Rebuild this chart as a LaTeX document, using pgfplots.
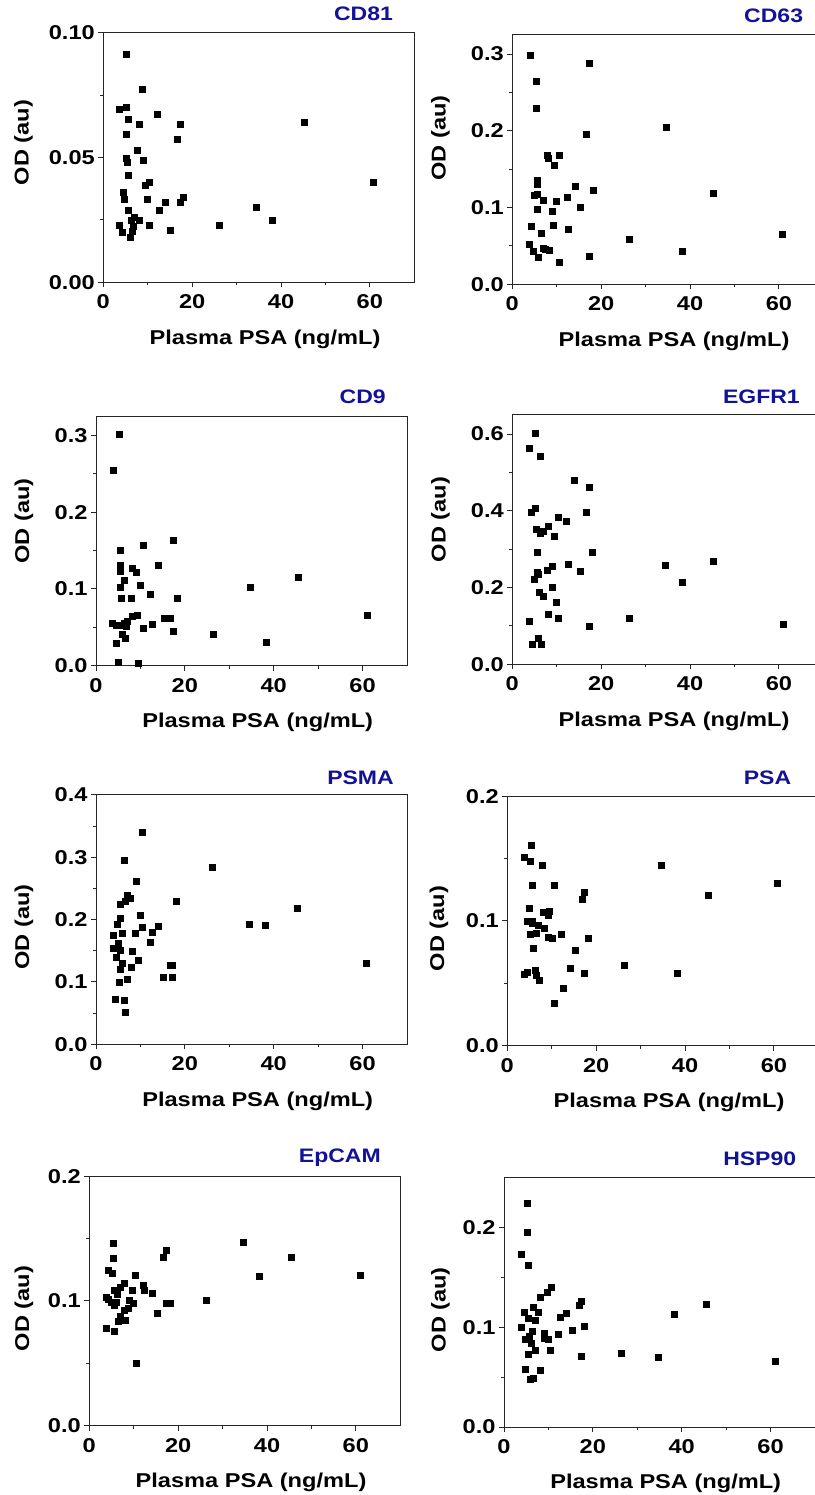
\documentclass[border=0pt]{standalone}
\usepackage{fontspec}
\setmainfont{Liberation Sans}[FakeStretch=1.18]
\usepackage{pgfplots}
\pgfplotsset{compat=1.18}
\definecolor{titleblue}{RGB}{18,18,150}

% style of the measured points
\pgfplotsset{
  psapoints/.style={black, only marks, mark=square*, mark size=3pt,
    mark options={fill=black, draw=black}},
}

% common look of the eight scatter panels
\pgfplotsset{
  psapanel/.style n args={4}{% #1,#2: ylabel position; #3,#4: title offset
    scale only axis, width=311pt, height=249.5pt,
    anchor=south west,
    xmin=0, xmax=70, ymin=0,
    xtick={0,20,40,60}, minor x tick num=1, minor y tick num=1,
    tick pos=left, tick align=outside,
    major tick length=5pt, minor tick length=3pt,
    axis line style={line width=0.9pt, black!85},
    every tick/.style={line width=0.9pt, black!85},
    scaled y ticks=false,
    /pgf/number format/assume math mode=true,
    ticklabel style={font=\fontsize{20}{24}\selectfont\bfseries},
    yticklabel style={/pgf/number format/.cd, fixed, zerofill, precision=1},
    xticklabel style={yshift=-4pt},
    label style={font=\fontsize{20}{24}\selectfont\bfseries},
    xlabel={Plasma PSA (ng/mL)},
    ylabel={OD (au)},
    xlabel style={at={(axis description cs:0.52,0)}, anchor=base, yshift=-62pt},
    ylabel style={at={(axis description cs:#1,#2)}, anchor=center},
    title style={at={(axis description cs:1,1)}, anchor=base east,
      xshift=#3, yshift=#4,
      font=\fontsize{19.5}{23}\selectfont\bfseries, text=titleblue},
    clip=false,
  }
}

\begin{document}
\begin{tikzpicture}

% ---------------- CD81 ----------------
\begin{axis}[psapanel={-0.257}{0.56}{-17.8pt}{6.6pt},
  at={(103.3pt,1212.7pt)}, title={CD81},
  ymax=0.10, ytick={0,0.05,0.10},
  yticklabel style={/pgf/number format/.cd, fixed, zerofill, precision=2}]
\addplot[psapoints] coordinates {
 (5.1,0.0913) (8.85,0.0772) (3.6,0.0692) (5.1,0.0701) (5.5,0.0652)
 (8.1,0.0632) (12.15,0.0672) (17.25,0.0632) (5.25,0.0592) (16.65,0.0572)
 (7.7,0.0531) (5.25,0.0498) (5.4,0.0481) (9.0,0.0491) (5.6,0.0431)
 (9.45,0.0391) (10.35,0.0400) (4.5,0.0360) (4.7,0.0331) (9.9,0.0331)
 (13.9,0.0321) (17.25,0.0321) (18.0,0.0339) (5.6,0.0290) (12.5,0.0290)
 (6.2,0.0250) (7.0,0.0261) (8.1,0.0250) (3.6,0.0230) (6.75,0.0224)
 (10.35,0.0230) (4.3,0.0202) (6.4,0.0203) (6.15,0.0181) (15.15,0.0210)
 (26.1,0.0230) (34.5,0.0301) (38.1,0.0250) (45.2,0.0641) (60.8,0.0400)
};
\end{axis}

% ---------------- CD63 ----------------
\begin{axis}[psapanel={-0.231}{0.587}{-16.7pt}{6pt},
  at={(512.3pt,1210.7pt)}, title={CD63},
  ymax=0.325, ytick={0,0.1,0.2,0.3}]
\addplot[psapoints] coordinates {
 (3.97,0.2978) (5.3,0.2639) (5.3,0.2296) (17.4,0.2878) (16.7,0.1961)
 (34.6,0.2043) (7.9,0.1678) (8.1,0.1648) (10.5,0.1687) (9.5,0.1557)
 (5.5,0.1361) (5.5,0.1309) (4.9,0.1157) (5.6,0.1178) (7.0,0.1100)
 (9.96,0.1087) (12.3,0.1135) (14.2,0.1274) (18.1,0.1222) (45.3,0.1187)
 (5.7,0.0983) (8.9,0.0957) (15.2,0.1004) (4.3,0.0757) (6.4,0.0665)
 (9.3,0.0770) (12.6,0.0713) (26.4,0.0583) (60.8,0.0652) (3.7,0.0522)
 (4.6,0.0426) (5.8,0.0352) (6.9,0.0470) (8.2,0.0448) (17.4,0.0370)
 (10.5,0.0291) (38.2,0.0435) (7.4,0.0457)
};
\end{axis}

% ---------------- CD9 ----------------
\begin{axis}[psapanel={-0.2315}{0.58}{-17.7pt}{6.7pt},
  at={(96pt,829.3pt)}, title={CD9},
  ymax=0.325, ytick={0,0.1,0.2,0.3}]
\addplot[psapoints] coordinates {
 (5.24,0.3013) (3.97,0.2540) (5.4,0.1507) (10.56,0.1563) (17.4,0.1633)
 (5.47,0.1311) (5.54,0.1233) (8.16,0.1272) (9.06,0.1220) (14.08,0.1311)
 (6.44,0.1116) (5.54,0.1020) (10.04,0.1042) (12.28,0.0934) (34.7,0.1020)
 (45.5,0.1151) (5.7,0.0881) (8.0,0.0881) (18.2,0.0881) (8.16,0.0651)
 (9.3,0.0660) (61.0,0.0664) (3.75,0.0547) (4.64,0.0530) (6.3,0.0551)
 (6.97,0.0582) (6.74,0.0508) (12.7,0.0543) (15.3,0.0625) (16.8,0.0617)
 (10.56,0.0491) (17.4,0.0452) (26.4,0.0404) (5.84,0.0412) (6.5,0.0360)
 (4.57,0.0291) (38.2,0.0304) (4.94,0.0048) (9.5,0.0035) (5.99,0.0521)
};
\end{axis}

% ---------------- EGFR1 ----------------
\begin{axis}[psapanel={-0.231}{0.58}{-20pt}{5pt},
  at={(512.3pt,830.7pt)}, title={EGFR1},
  ymax=0.65, ytick={0,0.2,0.4,0.6}]
\addplot[psapoints] coordinates {
 (5.12,0.6008) (3.84,0.5627) (6.33,0.5418) (13.93,0.4784) (17.32,0.4611)
 (5.2,0.4055) (4.22,0.3959) (16.64,0.3959) (10.39,0.3820) (12.2,0.3734)
 (5.27,0.3525) (6.17,0.3404) (6.93,0.3456) (8.06,0.3603) (9.41,0.3326)
 (5.5,0.2917) (18.07,0.2917) (8.96,0.2553) (12.58,0.2614) (7.76,0.2440)
 (15.2,0.2422) (5.5,0.2388) (5.72,0.2344) (4.82,0.2223) (34.5,0.2570)
 (45.3,0.2674) (38.2,0.2136) (9.04,0.1997) (6.1,0.1867) (7.0,0.1763)
 (9.94,0.1624) (8.06,0.1294) (10.39,0.1190) (26.3,0.1190) (3.77,0.1111)
 (17.32,0.0990) (60.9,0.1042) (5.72,0.0677) (4.52,0.0521) (6.5,0.0530)
};
\end{axis}

% ---------------- PSMA ----------------
\begin{axis}[psapanel={-0.2315}{0.47}{-9.7pt}{4.3pt},
  at={(96pt,450.7pt)}, title={PSMA},
  ymax=0.4, ytick={0,0.1,0.2,0.3,0.4}]
\addplot[psapoints] coordinates {
 (10.49,0.3394) (6.29,0.2944) (26.2,0.2842) (9.14,0.2611) (7.12,0.2386)
 (7.79,0.2343) (6.59,0.2295) (5.39,0.2252) (18.05,0.2300) (45.2,0.2177)
 (5.54,0.2027) (9.96,0.2075) (4.79,0.1920) (34.5,0.1925) (38.1,0.1914)
 (3.9,0.1743) (5.84,0.1780) (8.91,0.1775) (10.49,0.1871) (12.58,0.1802)
 (14.08,0.1887) (12.2,0.1641) (5.09,0.1614) (3.82,0.1534) (5.54,0.1507)
 (8.09,0.1485) (4.64,0.1394) (5.92,0.1308) (9.44,0.1346) (60.8,0.1298)
 (8.0,0.1233) (16.63,0.1271) (17.23,0.1276) (5.39,0.1196) (15.13,0.1072)
 (17.23,0.1072) (6.97,0.1040) (5.32,0.0997) (4.42,0.0724) (6.29,0.0708)
 (6.52,0.0509)
};
\end{axis}

% ---------------- PSA ----------------
\begin{axis}[psapanel={-0.22}{0.47}{-23.6pt}{6pt},
  at={(507.3pt,449.3pt)}, title={PSA},
  ymax=0.2, ytick={0,0.1,0.2}]
\addplot[psapoints] coordinates {
 (5.46,0.1604) (3.89,0.1513) (5.24,0.1475) (7.85,0.1443) (34.55,0.1443)
 (5.68,0.1285) (10.55,0.1285) (60.7,0.1301) (17.35,0.1234) (16.75,0.1173)
 (45.25,0.1205) (5.01,0.1100) (8.08,0.1074) (9.42,0.1079) (9.2,0.1044)
 (4.56,0.1001) (5.61,0.1001) (5.68,0.0983) (7.03,0.0969) (8.23,0.0945)
 (6.58,0.0905) (5.24,0.0894) (9.12,0.0873) (10.02,0.0865) (12.19,0.0892)
 (18.1,0.0862) (5.83,0.0782) (15.33,0.0768) (3.89,0.0573) (4.41,0.0589)
 (6.28,0.0602) (6.58,0.0562) (7.11,0.0527) (14.06,0.0624) (17.35,0.0584)
 (26.33,0.0643) (38.15,0.0578) (12.57,0.0461) (10.47,0.0340)
};
\end{axis}

% ---------------- EpCAM ----------------
\begin{axis}[psapanel={-0.21}{0.47}{-16pt}{7.7pt},
  at={(89.3pt,69.3pt)}, title={EpCAM},
  ymax=0.2, ytick={0,0.1,0.2}]
\addplot[psapoints] coordinates {
 (5.33,0.1462) (34.58,0.1470) (5.4,0.1341) (17.25,0.1406) (16.73,0.1349)
 (45.4,0.1349) (4.35,0.1248) (5.18,0.1226) (10.43,0.1210) (38.26,0.1202)
 (61.0,0.1210) (7.88,0.1141) (6.98,0.1111) (12.15,0.1124) (12.45,0.1084)
 (14.1,0.1060) (9.6,0.1090) (5.63,0.1084) (6.3,0.1058) (3.75,0.1033)
 (4.28,0.1017) (5.03,0.0988) (5.55,0.0967) (6.15,0.0991) (9.0,0.1009)
 (9.83,0.0985) (17.25,0.0980) (18.15,0.0980) (26.33,0.1009) (8.78,0.0940)
 (7.88,0.0926) (6.9,0.0876) (6.45,0.0838) (8.18,0.0849) (15.3,0.0900)
 (3.83,0.0779) (5.55,0.0760) (10.5,0.0498)
};
\end{axis}

% ---------------- HSP90 ----------------
\begin{axis}[psapanel={-0.204}{0.47}{-15.3pt}{5.6pt},
  at={(504pt,68pt)}, title={HSP90},
  ymax=0.25, ytick={0,0.1,0.2}]
\addplot[psapoints] coordinates {
 (5.33,0.2240) (5.25,0.1947) (3.98,0.1727) (5.48,0.1623) (10.65,0.1403)
 (9.68,0.1347) (8.18,0.1303) (17.33,0.1260) (16.95,0.1217) (45.4,0.1227)
 (6.53,0.1197) (4.58,0.1150) (7.8,0.1150) (14.1,0.1143) (38.26,0.1127)
 (12.68,0.1097) (5.48,0.1087) (7.05,0.1073) (3.9,0.0997) (18.15,0.1013)
 (6.3,0.0960) (15.38,0.0973) (9.15,0.0937) (12.23,0.0927) (5.78,0.0907)
 (4.88,0.0877) (9.15,0.0893) (10.05,0.0880) (6.08,0.0843) (7.05,0.0773)
 (10.5,0.0773) (5.55,0.0733) (26.4,0.0737) (17.33,0.0707) (34.65,0.0697)
 (61.05,0.0663) (4.73,0.0583) (8.25,0.0573) (6.6,0.0487) (5.85,0.0477)
};
\end{axis}

% page frame: the right-hand panels run slightly past the page edge
\pgfresetboundingbox
\path[use as bounding box] (0pt,0pt) rectangle (814pt,1495pt);
\end{tikzpicture}
\end{document}
